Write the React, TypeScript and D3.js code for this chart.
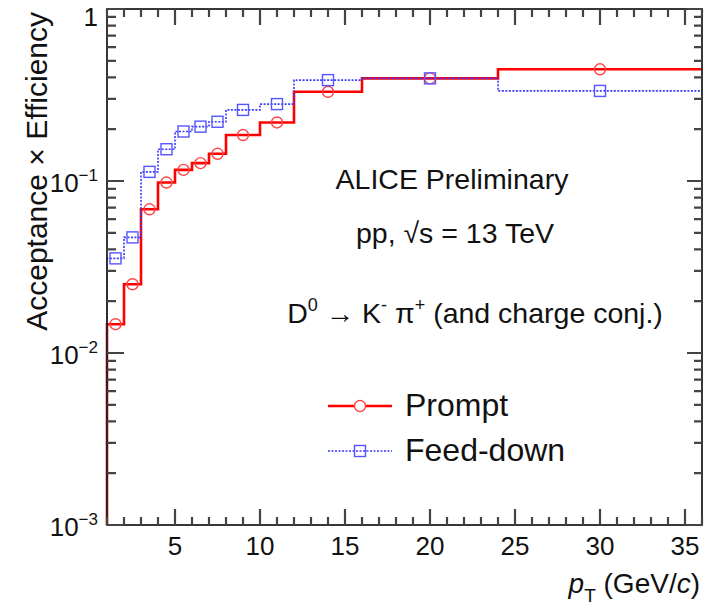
import * as d3 from "d3";
import { useRef, useEffect } from "react";

// bin edges in pT (GeV/c) and efficiency per bin
const binEdges = [1, 2, 3, 4, 5, 6, 7, 8, 10, 12, 16, 24, 36];
const promptValues = [0.0147, 0.0251, 0.0685, 0.098, 0.116, 0.127, 0.144, 0.185, 0.219, 0.33, 0.395, 0.446];
const feedDownValues = [0.0355, 0.047, 0.113, 0.153, 0.194, 0.207, 0.221, 0.259, 0.28, 0.386, 0.395, 0.334];

const xMajorTicks = [5, 10, 15, 20, 25, 30, 35];
const yDecades = [1e-3, 1e-2, 1e-1, 1];
const yDecadeLabels = [["10", "\u22123"], ["10", "\u22122"], ["10", "\u22121"], ["1", ""]];

const FONT = "'Liberation Sans', Arial, Helvetica, sans-serif";

const App = () => {
    const svgRef = useRef<SVGSVGElement>(null);

    useEffect(() => {
        const width = 707;
        const height = 609;
        const margin = { top: 9, right: 5, bottom: 84, left: 107 };
        const svg = d3.select(svgRef.current);
        svg.selectAll("*").remove();
        svg.attr("width", width).attr("height", height);

        const x = d3.scaleLinear()
            .domain([1, 36])
            .range([margin.left, width - margin.right]);
        const y = d3.scaleLog()
            .domain([1e-3, 1])
            .range([height - margin.bottom, margin.top]);

        const left = margin.left, right = width - margin.right;
        const bottom = height - margin.bottom, top = margin.top;

        // data, drawn as histogram steps
        const plot = svg.append("g");
        const step = d3.line<[number, number]>()
            .x(d => x(d[0]))
            .y(d => y(d[1]))
            .curve(d3.curveStepAfter);
        const stepPoints = (vals: number[]): [number, number][] => {
            const pts: [number, number][] = [[binEdges[0], 1e-3]];
            vals.forEach((v, i) => pts.push([binEdges[i], v]));
            pts.push([binEdges[binEdges.length - 1], vals[vals.length - 1]]);
            return pts;
        };
        const centers = binEdges.slice(0, -1).map((e, i) => (e + binEdges[i + 1]) / 2);

        plot.append("path")
            .attr("d", step(stepPoints(promptValues)))
            .attr("fill", "none")
            .attr("stroke", "#ff0000")
            .attr("stroke-width", 2.6);
        plot.selectAll(".pr-marker")
            .data(promptValues)
            .enter()
            .append("circle")
            .attr("class", "pr-marker")
            .attr("cx", (d, i) => x(centers[i]))
            .attr("cy", d => y(d))
            .attr("r", 5.5)
            .attr("fill", "none")
            .attr("stroke", "#ff4444")
            .attr("stroke-width", 1.4);

        plot.append("path")
            .attr("d", step(stepPoints(feedDownValues)))
            .attr("fill", "none")
            .attr("stroke", "#3a3aff")
            .attr("stroke-width", 1.6)
            .attr("stroke-dasharray", "2,1.5");
        plot.selectAll(".fd-marker")
            .data(feedDownValues)
            .enter()
            .append("rect")
            .attr("class", "fd-marker")
            .attr("x", (d, i) => x(centers[i]) - 5.5)
            .attr("y", d => y(d) - 5.5)
            .attr("width", 11)
            .attr("height", 11)
            .attr("fill", "none")
            .attr("stroke", "#5555ff")
            .attr("stroke-width", 1.4);

        // frame
        svg.append("rect")
            .attr("x", left).attr("y", top)
            .attr("width", right - left).attr("height", bottom - top)
            .attr("fill", "none")
            .attr("stroke", "#222")
            .attr("stroke-width", 1.8);

        // ticks (ROOT style, pointing inwards, on all four sides)
        const xMinor = d3.range(1, 37).filter(v => !xMajorTicks.includes(v));
        const yMinor: number[] = [];
        [1e-3, 1e-2, 1e-1].forEach(dec => d3.range(2, 10).forEach(k => yMinor.push(k * dec)));

        const tickPath = d3.path();
        const addX = (vals: number[], len: number) => vals.forEach(v => {
            const px = x(v);
            tickPath.moveTo(px, bottom);
            tickPath.lineTo(px, bottom - len);
            tickPath.moveTo(px, top);
            tickPath.lineTo(px, top + len);
        });
        const addY = (vals: number[], lenLeft: number, lenRight: number) => vals.forEach(v => {
            const py = y(v);
            tickPath.moveTo(left, py);
            tickPath.lineTo(left + lenLeft, py);
            tickPath.moveTo(right, py);
            tickPath.lineTo(right - lenRight, py);
        });
        addX(xMajorTicks, 16);
        addX(xMinor, 8);
        addY(yDecades, 17, 15);
        addY(yMinor, 9, 8);
        svg.append("path")
            .attr("d", tickPath.toString())
            .attr("fill", "none")
            .attr("stroke", "#444")
            .attr("stroke-width", 2.2);

        // x tick labels
        svg.append("g")
            .selectAll("text")
            .data(xMajorTicks)
            .enter()
            .append("text")
            .attr("x", d => x(d))
            .attr("y", 555)
            .attr("text-anchor", "middle")
            .attr("font-family", FONT)
            .attr("font-size", 26)
            .attr("fill", "#111")
            .text(d => `${d}`);

        // y tick labels with superscripts
        yDecades.forEach((v, i) => {
            const [base, exp] = yDecadeLabels[i];
            const t = svg.append("text")
                .attr("x", left - 9)
                .attr("y", exp ? y(v) + 11 : y(v) + 17)
                .attr("text-anchor", "end")
                .attr("font-family", FONT)
                .attr("font-size", 26)
                .attr("fill", "#111");
            t.append("tspan").text(base);
            if (exp) {
                t.append("tspan").attr("font-size", 17).attr("dy", -11).text(exp);
            }
        });

        // axis titles
        svg.append("text")
            .attr("transform", `translate(47,${top + 3}) rotate(-90)`)
            .attr("text-anchor", "end")
            .attr("font-family", FONT)
            .attr("font-size", 30)
            .attr("fill", "#111")
            .text("Acceptance \u00d7 Efficiency");

        const xt = svg.append("text")
            .attr("x", right - 2)
            .attr("y", 593)
            .attr("text-anchor", "end")
            .attr("font-family", FONT)
            .attr("font-size", 28)
            .attr("fill", "#111");
        xt.append("tspan").attr("font-style", "italic").text("p");
        xt.append("tspan").attr("font-size", 19).attr("dy", 9).text("T");
        xt.append("tspan").attr("dy", -9).text(" (GeV/");
        xt.append("tspan").attr("font-style", "italic").text("c");
        xt.append("tspan").text(")");

        // annotations
        const note = (cx: number, by: number) => svg.append("text")
            .attr("x", cx).attr("y", by)
            .attr("text-anchor", "middle")
            .attr("font-family", FONT)
            .attr("font-size", 28.5)
            .attr("fill", "#111");
        note(452, 189).text("ALICE Preliminary");
        note(455, 243).text("pp, \u221as = 13 TeV");
        const decay = note(475, 323);
        decay.append("tspan").text("D");
        decay.append("tspan").attr("font-size", 18).attr("dy", -12).text("0");
        decay.append("tspan").attr("dy", 12).text(" \u2192 K");
        decay.append("tspan").attr("font-size", 18).attr("dy", -12).text("-");
        decay.append("tspan").attr("dy", 12).text(" \u03c0");
        decay.append("tspan").attr("font-size", 18).attr("dy", -12).text("+");
        decay.append("tspan").attr("dy", 12).text(" (and charge conj.)");

        // legend
        const legend = [
            { label: "Prompt", color: "#ff0000", marker: "circle", dash: null, ly: 406 },
            { label: "Feed-down", color: "#3a3aff", marker: "square", dash: "2,1.5", ly: 451 },
        ];
        legend.forEach(item => {
            svg.append("line")
                .attr("x1", 328).attr("x2", 392)
                .attr("y1", item.ly).attr("y2", item.ly)
                .attr("stroke", item.color)
                .attr("stroke-width", item.dash ? 1.6 : 2.6)
                .attr("stroke-dasharray", item.dash);
            if (item.marker === "circle") {
                svg.append("circle").attr("cx", 360).attr("cy", item.ly).attr("r", 5.5)
                    .attr("fill", "white").attr("stroke", "#ff4444").attr("stroke-width", 1.4);
            } else {
                svg.append("rect").attr("x", 354.5).attr("y", item.ly - 5.5).attr("width", 11).attr("height", 11)
                    .attr("fill", "none").attr("stroke", "#5555ff").attr("stroke-width", 1.4);
            }
            svg.append("text")
                .attr("x", 405).attr("y", item.ly + 10)
                .attr("font-family", FONT)
                .attr("font-size", 32)
                .attr("fill", "#111")
                .text(item.label);
        });
    }, []);

    return (
        <div style={{ position: "absolute", left: 0, top: 0, background: "white" }}>
            <svg ref={svgRef} style={{ display: "block" }} />
        </div>
    );
};

export default App;
